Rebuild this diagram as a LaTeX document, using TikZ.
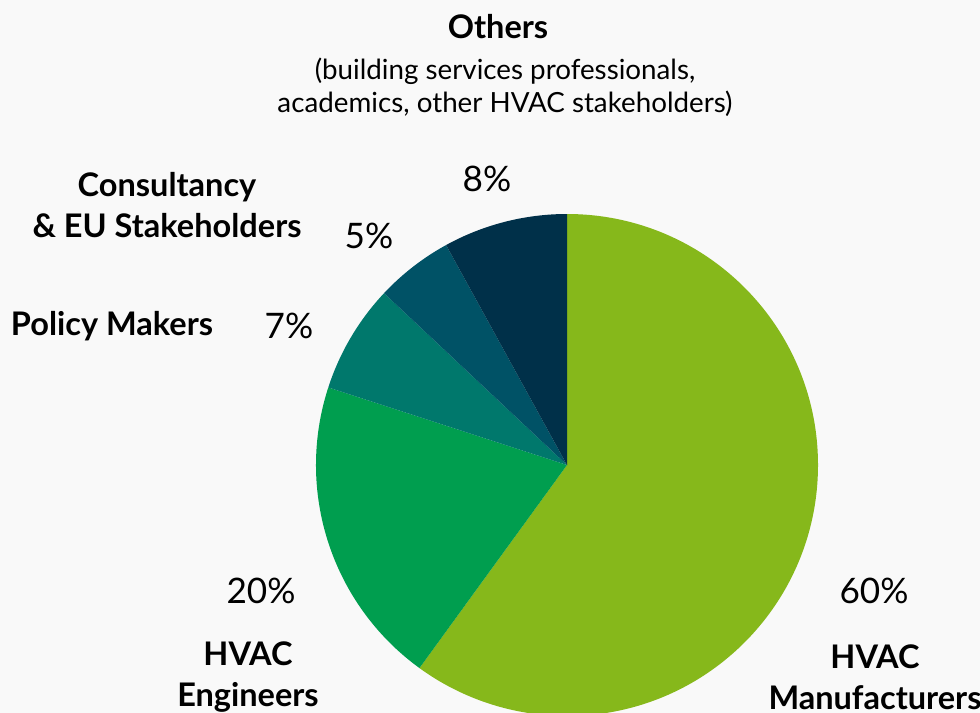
\documentclass[tikz,border=0pt]{standalone}
\usepackage{fontspec}
\setmainfont{Lato}
\definecolor{mfgreen}{HTML}{86B81B}
\definecolor{enggreen}{HTML}{009E4F}
\definecolor{polteal}{HTML}{00786C}
\definecolor{conteal}{HTML}{005266}
\definecolor{othnavy}{HTML}{003049}
\definecolor{bggray}{HTML}{F9F9F9}
\begin{document}
\begin{tikzpicture}[x=0.02cm, y=0.02cm,
    lbl/.style={font=\fontsize{18.5}{23.5}\selectfont\bfseries, align=center, inner sep=0pt},
    sub/.style={font=\fontsize{15.8}{18.8}\selectfont, align=center, inner sep=0pt},
    pct/.style={font=\fontsize{20}{24}\selectfont, inner sep=0pt}]
  \clip (0, 0) rectangle (980, -713);
  \fill[bggray] (0, 0) rectangle (980, -713);
  \coordinate (ctr) at (567, -465);
  % slices, clockwise from the top
  \foreach \a/\b/\c in {90/-126/mfgreen, -126/-198/enggreen, -198/-223.2/polteal,
                        -223.2/-241.2/conteal, -241.2/-270/othnavy} {
    \fill[\c] (ctr) -- ++(\a:251) arc[start angle=\a, end angle=\b, radius=251] -- cycle;
  }
  % labels
  \node[lbl] (oth) at (498, -27) {Others};
  \node[sub] (othsub) at (505, -87) {(building services professionals,\\academics, other HVAC stakeholders)};
  \node[pct] (othpct) at (487, -179) {8\%};
  \node[lbl] (con) at (167, -205) {Consultancy\\\& EU Stakeholders};
  \node[pct] (conpct) at (369, -236) {5\%};
  \node[lbl] (pol) at (112, -326) {Policy Makers};
  \node[pct] (polpct) at (289, -326) {7\%};
  \node[pct] (engpct) at (261, -591) {20\%};
  \node[lbl] (eng) at (248, -677) {HVAC\\Engineers};
  \node[pct] (mfpct) at (874, -591) {60\%};
  \node[lbl] (mf) at (875, -677) {HVAC\\Manufacturers};
\end{tikzpicture}
\end{document}
